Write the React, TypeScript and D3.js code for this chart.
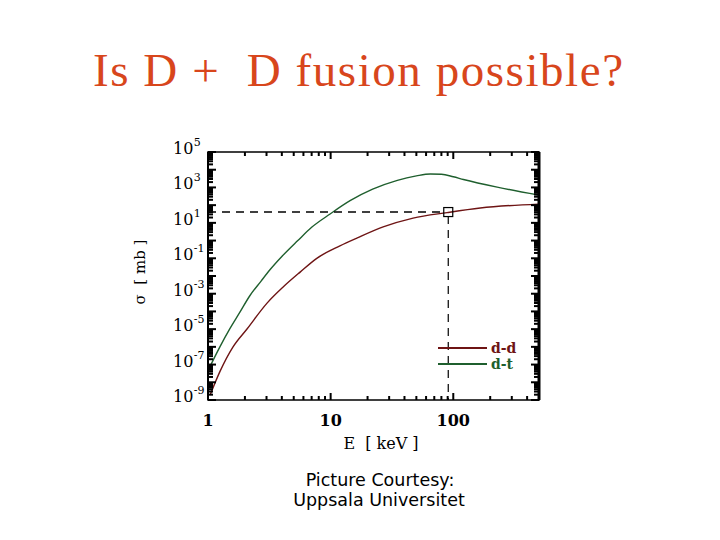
import React from 'react';
import * as d3 from 'd3';

// energies (keV) and log10 cross sections (mb)
const ddE = [1.04, 1.25, 1.6, 2.08, 3.03, 4.1, 5.64, 7.76, 11.9, 16.5, 26.8, 47, 89, 166, 495];
const ddLogSigma = [-8.72, -7.4, -6.0, -4.99, -3.53, -2.62, -1.78, -0.99, -0.3, 0.15, 0.77, 1.27, 1.58, 1.84, 2.06];

const dtE = [1.04, 1.25, 1.5, 1.8, 2.2, 2.7, 3.2, 4.0, 5.4, 7.0, 9.9, 14.4, 22, 35, 50, 65, 80, 100, 121, 228, 495];
const dtLogSigma = [-7.1, -6.0, -5.0, -4.1, -3.1, -2.3, -1.65, -0.9, 0.0, 0.75, 1.5, 2.25, 2.9, 3.4, 3.65, 3.76, 3.74, 3.6, 3.45, 3.02, 2.57];

const xTickLabels = [1, 10, 100];
const yTickExponents = [5, 3, 1, -1, -3, -5, -7, -9];

const marker = { E: 91, logSigma: 1.61 };

const series = [
  { name: 'd-d', E: ddE, logSigma: ddLogSigma, color: '#6e1414' },
  { name: 'd-t', E: dtE, logSigma: dtLogSigma, color: '#1f5f2e' },
];

const W = 720;
const H = 540;
const left = 208, right = 539, top = 152, bottom = 400;

export default function App() {
  const x = d3.scaleLog().domain([1, 500]).range([left, right]);
  const y = d3.scaleLog().domain([1e-9, 1e5]).range([bottom, top]);

  const line = d3
    .line<[number, number]>()
    .x((d) => x(d[0]))
    .y((d) => y(Math.pow(10, d[1])))
    .curve(d3.curveMonotoneX);

  // minor ticks for the log axes
  const xTicks: { v: number; major: boolean }[] = [];
  for (let dec = 1; dec <= 100; dec *= 10) {
    for (let m = 1; m <= 9; m++) {
      const v = dec * m;
      if (v >= 1 && v <= 500) xTicks.push({ v, major: m === 1 });
    }
  }
  const yTicks: { v: number; major: boolean }[] = [];
  for (let e = -9; e < 5; e++) {
    for (let m = 1; m <= 9; m++) yTicks.push({ v: m * Math.pow(10, e), major: m === 1 });
  }
  yTicks.push({ v: 1e5, major: true });

  const mx = x(marker.E);
  const my = y(Math.pow(10, marker.logSigma));

  const serif = '"DejaVu Serif", "Liberation Serif", serif';

  return (
    <svg width={W} height={H} style={{ position: 'absolute', left: 0, top: 0, background: '#fff' }}>
      <text
        x={93}
        y={86}
        textLength={530}
        lengthAdjust="spacing"
        fontFamily='"Liberation Serif", serif'
        fontSize={47}
        fill="#d8461c"
      >
        Is D + &nbsp;D fusion possible?
      </text>

      {/* curves */}
      {series.map((s) => (
        <path
          key={s.name}
          d={line(s.E.map((e, i) => [e, s.logSigma[i]] as [number, number])) || ''}
          fill="none"
          stroke={s.color}
          strokeWidth={1.4}
        />
      ))}

      {/* dashed guide lines + marker */}
      <line x1={left} x2={mx - 4} y1={my} y2={my} stroke="#000" strokeWidth={1.6} strokeDasharray="8,6" />
      <line x1={mx} x2={mx} y1={my + 4} y2={bottom} stroke="#000" strokeWidth={1.2} strokeDasharray="8,6" />
      <rect x={mx - 4.5} y={my - 4.5} width={9} height={9} fill="none" stroke="#000" strokeWidth={1.2} />

      {/* frame */}
      <rect x={left} y={top} width={right - left} height={bottom - top} fill="none" stroke="#000" strokeWidth={1.5} />
      <line x1={left} x2={left} y1={top} y2={bottom} stroke="#000" strokeWidth={2} />
      <line x1={right} x2={right} y1={top} y2={bottom} stroke="#000" strokeWidth={3} />

      {/* x ticks */}
      {xTicks.map((t, i) => {
        const len = t.major ? 7 : 4;
        return (
          <g key={'xt' + i} stroke="#000" strokeWidth={2}>
            <line x1={x(t.v)} x2={x(t.v)} y1={bottom} y2={bottom - len} />
            <line x1={x(t.v)} x2={x(t.v)} y1={top} y2={top + len} />
          </g>
        );
      })}
      {/* y ticks */}
      {yTicks.map((t, i) => {
        const len = t.major ? 8 : 5;
        return (
          <g key={'yt' + i} stroke="#000" strokeWidth={2}>
            <line x1={left} x2={left + len} y1={y(t.v)} y2={y(t.v)} />
            <line x1={right} x2={right - len} y1={y(t.v)} y2={y(t.v)} />
          </g>
        );
      })}

      {/* y tick labels */}
      {yTickExponents.map((e) => (
        <text key={'yl' + e} x={173} y={y(Math.pow(10, e)) + 2} fontFamily={serif} fontSize={16} fill="#000">
          10
          <tspan dx={0.5} dy={-8} fontSize={11}>
            {e}
          </tspan>
        </text>
      ))}

      {/* x tick labels */}
      {xTickLabels.map((v) => (
        <text key={'xl' + v} x={x(v)} y={426} textAnchor="middle" fontFamily={serif} fontSize={16} fontWeight="bold" fill="#000">
          {v}
        </text>
      ))}

      <text x={381} y={449} textAnchor="middle" fontFamily={serif} fontSize={16} fill="#000">
        E &nbsp;[ keV ]
      </text>
      <text
        transform="translate(145,272) rotate(-90)"
        textAnchor="middle"
        fontFamily={serif}
        fontSize={15}
        fill="#000"
      >
        σ &nbsp;[ mb ]
      </text>

      {/* legend */}
      {series.map((s, i) => (
        <g key={'lg' + s.name}>
          <line x1={438} x2={487} y1={348 + i * 16} y2={348 + i * 16} stroke={s.color} strokeWidth={2} />
          <text x={491} y={353 + i * 16} fontFamily={serif} fontSize={14} fontWeight="bold" fill={s.color}>
            {s.name}
          </text>
        </g>
      ))}

      <text x={380} y={486} textAnchor="middle" fontFamily={'"DejaVu Sans", sans-serif'} fontSize={17.5} fill="#000">
        Picture Courtesy:
      </text>
      <text x={379} y={506} textAnchor="middle" fontFamily={'"DejaVu Sans", sans-serif'} fontSize={17.5} fill="#000">
        Uppsala Universitet
      </text>
    </svg>
  );
}
